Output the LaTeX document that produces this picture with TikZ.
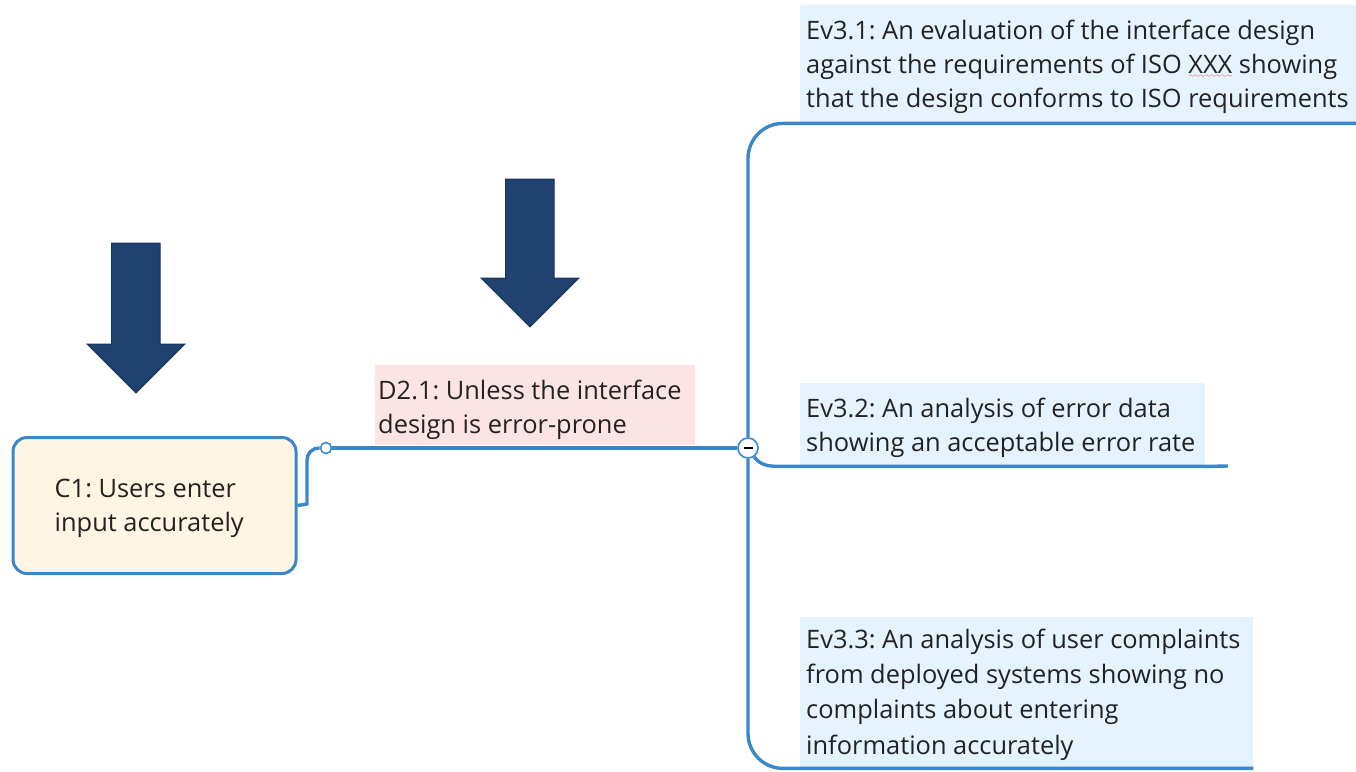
\documentclass[tikz,border=0pt]{standalone}
\usepackage{fontspec}
\setmainfont{Open Sans}
\usetikzlibrary{calc}
\definecolor{lineblue}{HTML}{3A87C9}
\definecolor{cream}{HTML}{FFF5E2}
\definecolor{pinkbg}{HTML}{FDE4E4}
\definecolor{bluebg}{HTML}{E5F3FF}
\definecolor{navy}{HTML}{1F4271}
\definecolor{navyedge}{HTML}{17365F}
\definecolor{txtcol}{HTML}{222222}
\font\wavefont=lasy6
\newsavebox\wbox
\newcommand{\redwave}[1]{\sbox\wbox{#1}\leavevmode\rlap{\textcolor{red}{\lower4pt\hbox to\wd\wbox{\xleaders\hbox{\wavefont\char58}\hfill}}}\usebox\wbox}
\frenchspacing
\tikzset{
  conn/.style={draw=lineblue, line width=3.4pt},
  fillbox/.style={rectangle, inner sep=0pt, anchor=north west},
  txt/.style={font=\fontsize{25.4}{34}\selectfont, text=txtcol, align=left, inner sep=0pt, anchor=west},
  bigarrow/.style={fill=navy, draw=navyedge, line width=1pt},
  knobstyle/.style={circle, draw=lineblue, fill=white, line width=1.6pt, inner sep=0pt}
}
\begin{document}
\begin{tikzpicture}[x=1pt,y=-1pt]
\useasboundingbox (0,0) rectangle (1356,771);

% boxes
\node[fillbox, fill=cream, draw=lineblue, line width=3pt, rounded corners=14pt,
      minimum width=283pt, minimum height=136pt] (c1) at (11.5,436) {};
\node[txt] (c1t) at ($(c1.west)+(43,3)$) {C1: Users enter\\input accurately};

\node[fillbox, fill=pinkbg, minimum width=320pt, minimum height=80pt] (d21) at (375,365) {};
\node[txt] (d21t) at ($(d21.west)+(3,5)$) {D2.1: Unless the interface\\design is error-prone};

\node[fillbox, fill=bluebg, minimum width=556pt, minimum height=118pt] (ev1) at (800,5) {};
\node[txt] (ev1t) at ($(ev1.west)+(6,3)$) {Ev3.1: An evaluation of the interface design\\against the requirements of ISO \redwave{XXX} showing\\that the design conforms to ISO requirements};

\node[fillbox, fill=bluebg, minimum width=405pt, minimum height=83pt] (ev2) at (800,383) {};
\node[txt] (ev2t) at ($(ev2.west)+(6,3)$) {Ev3.2: An analysis of error data\\showing an acceptable error rate};

\node[fillbox, fill=bluebg, minimum width=453pt, minimum height=151pt] (ev3) at (800,617) {};
\node[txt, font=\fontsize{25.4}{35.2}\selectfont] (ev3t) at ($(ev3.west)+(6,2)$) {Ev3.3: An analysis of user complaints\\from deployed systems showing no\\complaints about entering\\information accurately};

% hub and knob
\node[knobstyle, minimum size=20pt] (hub) at (748,448) {};
\node[knobstyle, minimum size=11pt] (knob) at (326,448) {};
\draw[black, line width=1.3pt] ($(hub.center)+(-4.5,0)$) -- ($(hub.center)+(4.5,0)$);
\coordinate (ev2end) at (1228,466);

% connectors
\draw[conn] (c1.east) -- (307,504) [rounded corners=12pt] -- (307,448) -- (knob.west);
\draw[conn] (knob.east) -- (hub.west);
\draw[conn, rounded corners=35pt] (hub.north) -- (hub.north |- ev1.south) -- (ev1.south east);
\draw[conn, rounded corners=35pt] (hub.south) -- (hub.south |- ev3.south) -- (ev3.south east);
\draw[conn] (hub.-55) to[out=-55, in=180] ($(ev2.south west)+(-18,0)$) -- (ev2.south west) -- (ev2.south east) -- (ev2end);

% block arrows
\draw[bigarrow] (111.5,243) -- (160,243) -- (160,344) -- (185,344) -- (136,393) -- (87,344) -- (111.5,344) -- cycle;
\draw[bigarrow] (505.5,179) -- (554,179) -- (554,278) -- (579,278) -- (530,327) -- (481,278) -- (505.5,278) -- cycle;
\end{tikzpicture}
\end{document}
